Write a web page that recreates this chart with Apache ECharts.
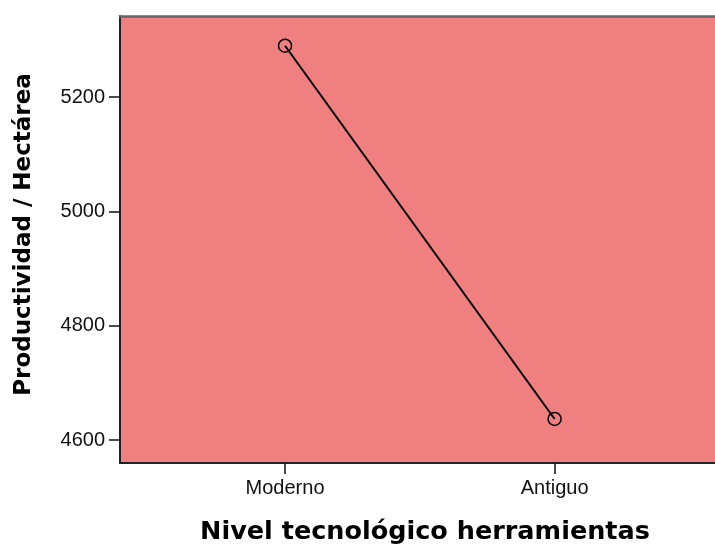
<!DOCTYPE html>
<html>
<head>
<meta charset="utf-8">
<script src="https://cdn.jsdelivr.net/npm/echarts@6/dist/echarts.min.js"></script>
<style>html,body{margin:0;padding:0;background:#fff}#c{width:715px;height:550px}</style>
</head>
<body>
<div id="c"></div>
<script>
const categories = ['Moderno', 'Antiguo'];
const productividad = [5290, 4637];
const yTicks = [4600, 4800, 5000, 5200];

const chart = echarts.init(document.getElementById('c'), null, {renderer: 'canvas'});
chart.setOption({
  animation: false,
  backgroundColor: '#ffffff',
  grid: {
    left: 120, top: 16, right: -6, height: 450,
    show: true, backgroundColor: '#F08080', borderWidth: 0
  },
  xAxis: [{
    type: 'value',
    min: -0.6122, max: 1.595,
    splitLine: {show: false},
    axisLine: {show: true, onZero: false, lineStyle: {color: '#222', width: 2}},
    axisTick: {show: true, length: 11, customValues: [0, 1], lineStyle: {color: '#111', width: 1.5}},
    axisLabel: {
      customValues: [0, 1], margin: 15,
      formatter: v => categories[Math.round(v)] || '',
      fontFamily: 'Liberation Sans', fontSize: 20, color: '#111'
    },
    name: 'Nivel tecnológico herramientas',
    nameLocation: 'middle', nameGap: 56,
    nameTextStyle: {fontFamily: 'DejaVu Sans', fontWeight: 'bold', fontSize: 25.5, color: '#000', padding: [0, 0, 0, 15]}
  }, {
    type: 'value', position: 'top',
    min: -0.6122, max: 1.595,
    splitLine: {show: false},
    axisLine: {show: true, onZero: false, lineStyle: {color: '#666', width: 2.5}},
    axisTick: {show: false}, axisLabel: {show: false}
  }],
  yAxis: {
    type: 'value',
    min: 4560, max: 5342,
    splitLine: {show: false},
    axisLine: {show: true, onZero: false, lineStyle: {color: '#222', width: 2}},
    axisTick: {show: true, length: 11, customValues: yTicks, lineStyle: {color: '#111', width: 1.5}},
    axisLabel: {customValues: yTicks, margin: 15, formatter: v => String(v), fontFamily: 'Liberation Sans', fontSize: 20, color: '#111'},
    name: 'Productividad / Hectárea',
    nameLocation: 'middle', nameGap: 84,
    nameTextStyle: {fontFamily: 'DejaVu Sans', fontWeight: 'bold', fontSize: 23, color: '#000', padding: [0, 0, 0, 10]}
  },
  series: [{
    type: 'line',
    xAxisIndex: 0,
    data: productividad.map((v, i) => [i, v]),
    lineStyle: {color: '#000', width: 2},
    symbol: 'circle', symbolSize: 13,
    itemStyle: {color: 'rgba(0,0,0,0)', borderColor: '#000', borderWidth: 1.5}
  }]
});
</script>
</body>
</html>
